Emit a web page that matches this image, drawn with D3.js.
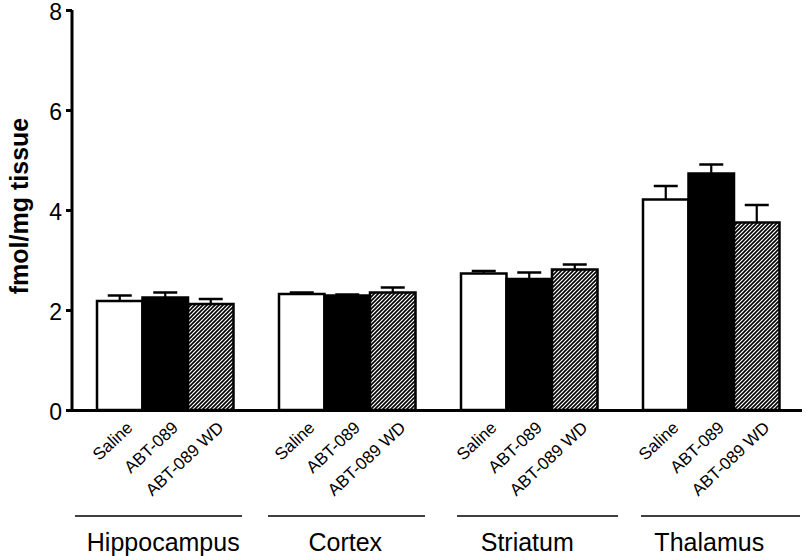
<!DOCTYPE html>
<html><head><meta charset="utf-8">
<script src="https://cdn.jsdelivr.net/npm/d3@7"></script>
<style>body{margin:0;background:#fff;} text{font-family:"Liberation Sans",Arial,sans-serif;}</style>
</head><body>
<svg id="c" width="806" height="556"></svg>
<script>
const regions = ["Hippocampus","Cortex","Striatum","Thalamus"];
const treatments = ["Saline","ABT-089","ABT-089 WD"];
const meanSaline = [2.18, 2.32, 2.73, 4.21];
const meanABT = [2.25, 2.29, 2.62, 4.73];
const meanWD = [2.12, 2.35, 2.81, 3.75];
const errSaline = [0.11, 0.03, 0.05, 0.27];
const errABT = [0.10, 0.02, 0.13, 0.18];
const errWD = [0.10, 0.10, 0.10, 0.35];
const yTicks = [0, 2, 4, 6, 8];

const means = [meanSaline, meanABT, meanWD];
const errs = [errSaline, errABT, errWD];
const data = [];
regions.forEach((r, i) => treatments.forEach((t, j) => data.push({region: r, treat: t, j, v: means[j][i], e: errs[j][i]})));

const svg = d3.select("#c");
const defs = svg.append("defs");
const pat = defs.append("pattern").attr("id","hatch").attr("patternUnits","userSpaceOnUse")
  .attr("width",4).attr("height",4);
pat.append("rect").attr("width",4).attr("height",4).attr("fill","#fff");
pat.append("path").attr("d","M-1,1 l2,-2 M0,4 l4,-4 M3,5 l2,-2").attr("stroke","#000").attr("stroke-width",1.6);

const y = d3.scaleLinear().domain([0,8]).range([410,10]);
const x0 = d3.scaleBand().domain(regions).range([97, 779.5]).paddingInner(0.25).paddingOuter(0);
const x1 = d3.scaleBand().domain(treatments).range([0, x0.bandwidth()]);
const fills = {"Saline":"#fff","ABT-089":"#000","ABT-089 WD":"url(#hatch)"};

// bars
const g = svg.append("g");
g.selectAll("rect.bar").data(data).join("rect").attr("class","bar")
  .attr("x", d => x0(d.region) + x1(d.treat))
  .attr("y", d => y(d.v))
  .attr("width", x1.bandwidth())
  .attr("height", d => y(0) - y(d.v))
  .attr("fill", d => fills[d.treat])
  .attr("stroke","#000").attr("stroke-width",2.5);

// error bars (upper only)
const eb = g.selectAll("g.err").data(data).join("g").attr("class","err");
eb.append("line")
  .attr("x1", d => x0(d.region) + x1(d.treat) + x1.bandwidth()/2)
  .attr("x2", d => x0(d.region) + x1(d.treat) + x1.bandwidth()/2)
  .attr("y1", d => y(d.v)).attr("y2", d => y(d.v + d.e))
  .attr("stroke","#000").attr("stroke-width",2.2);
eb.append("line")
  .attr("x1", d => x0(d.region) + x1(d.treat) + x1.bandwidth()/2 - 12)
  .attr("x2", d => x0(d.region) + x1(d.treat) + x1.bandwidth()/2 + 12)
  .attr("y1", d => y(d.v + d.e)).attr("y2", d => y(d.v + d.e))
  .attr("stroke","#000").attr("stroke-width",2.5);

// y axis
const yAxis = svg.append("g").attr("transform","translate(72,0)")
  .call(d3.axisLeft(y).tickValues(yTicks).tickSize(6).tickPadding(4).tickFormat(d3.format("d")));
yAxis.select(".domain").attr("stroke","#000").attr("stroke-width",3).attr("d","M0,10V411.5");
yAxis.selectAll(".tick line").attr("stroke","#000").attr("stroke-width",3);
yAxis.selectAll(".tick text").attr("font-size",23).attr("fill","#000").attr("dy","0.42em")
  .style("font-family","'Liberation Sans',Arial,sans-serif");

// x axis line
svg.append("line").attr("x1",66).attr("x2",802).attr("y1",410.5).attr("y2",410.5)
  .attr("stroke","#000").attr("stroke-width",3);

// rotated treatment labels
svg.selectAll("text.tl").data(data).join("text").attr("class","tl")
  .attr("transform", d => `translate(${x0(d.region) + x1(d.treat) + x1.bandwidth()/2 + 14},${429}) rotate(-43)`)
  .attr("text-anchor","end").attr("font-size",17).attr("fill","#000")
  .text(d => d.treat);

// group lines & labels
const lineExt = [[75,242],[268,425],[457,618],[641,800]];
svg.selectAll("line.gl").data(regions).join("line").attr("class","gl")
  .attr("x1", (d,i) => lineExt[i][0]).attr("x2", (d,i) => lineExt[i][1])
  .attr("y1",516).attr("y2",516).attr("stroke","#000").attr("stroke-width",1.5);
svg.selectAll("text.gt").data(regions).join("text").attr("class","gt")
  .attr("x", d => x0(d) + x0.bandwidth()/2 - 2)
  .attr("y",551).attr("text-anchor","middle").attr("font-size",25).attr("fill","#000")
  .text(d => d);

// y label
svg.append("text").attr("transform","translate(28,206) rotate(-90)")
  .attr("text-anchor","middle").attr("font-size",25).attr("font-weight","bold").attr("fill","#000")
  .text("fmol/mg tissue");
</script>
</body></html>
